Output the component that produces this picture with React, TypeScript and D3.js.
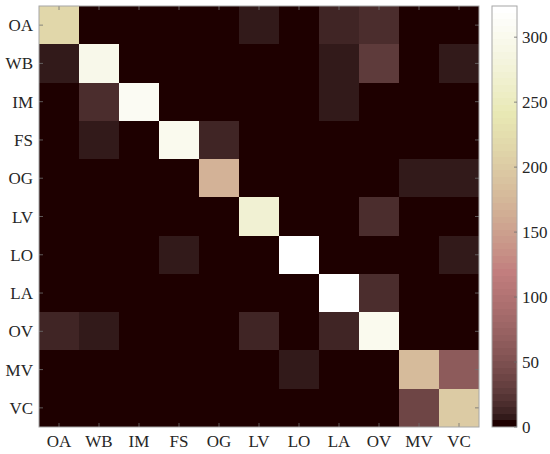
import React from 'react';
import * as d3 from 'd3';

const categories = ['OA', 'WB', 'IM', 'FS', 'OG', 'LV', 'LO', 'LA', 'OV', 'MV', 'VC'];

// confusion matrix rows (true class), columns in the same order as categories
const rowOA = [215, 0, 0, 0, 0, 8, 0, 12, 20, 0, 0];
const rowWB = [8, 296, 0, 0, 0, 0, 0, 8, 27, 0, 8];
const rowIM = [0, 18, 308, 0, 0, 0, 0, 8, 0, 0, 0];
const rowFS = [0, 8, 0, 300, 14, 0, 0, 0, 0, 0, 0];
const rowOG = [0, 0, 0, 0, 168, 0, 0, 0, 0, 8, 8];
const rowLV = [0, 0, 0, 0, 0, 272, 0, 0, 17, 0, 0];
const rowLO = [0, 0, 0, 8, 0, 0, 324, 0, 0, 0, 8];
const rowLA = [0, 0, 0, 0, 0, 0, 0, 322, 17, 0, 0];
const rowOV = [14, 8, 0, 0, 0, 14, 0, 13, 302, 0, 0];
const rowMV = [0, 0, 0, 0, 0, 0, 8, 0, 0, 178, 65];
const rowVC = [0, 0, 0, 0, 0, 0, 0, 0, 0, 37, 200];

const matrix = [rowOA, rowWB, rowIM, rowFS, rowOG, rowLV, rowLO, rowLA, rowOV, rowMV, rowVC];

const colorbarTicks = [0, 50, 100, 150, 200, 250, 300];
const maxValue = 324;

// MATLAB pink(64) colormap
function pinkColormap(m: number): string[] {
  const n = Math.floor((3 / 8) * m);
  const out: string[] = [];
  for (let i = 0; i < m; i++) {
    const gray = i / (m - 1);
    const rh = i < n ? (i + 1) / n : 1;
    const gh = i < n ? 0 : i < 2 * n ? (i - n + 1) / n : 1;
    const bh = i < 2 * n ? 0 : (i - 2 * n + 1) / (m - 2 * n);
    const r = Math.sqrt((2 * gray + rh) / 3);
    const g = Math.sqrt((2 * gray + gh) / 3);
    const b = Math.sqrt((2 * gray + bh) / 3);
    out.push(d3.rgb(r * 255, g * 255, b * 255).formatHex());
  }
  return out;
}

const colors = pinkColormap(64);

export default function App() {
  const width = 550;
  const height = 454;
  const plot = { left: 39, right: 479, top: 6, bottom: 427 };
  const bar = { left: 492, right: 517 };
  const font = "'Liberation Serif', 'Times New Roman', Times, serif";

  const x = d3.scaleBand().domain(categories).range([plot.left, plot.right]);
  const y = d3.scaleBand().domain(categories).range([plot.top, plot.bottom]);
  const color = d3.scaleQuantize<string>().domain([0, maxValue]).range(colors);
  const cy = d3.scaleLinear().domain([0, maxValue]).range([plot.bottom, plot.top]);

  const step = maxValue / colors.length;
  const tickLen = 4;
  const textStyle = { fontFamily: font, fontSize: 17 };

  // integer cell edges so neighbouring cells meet without seams
  const x0 = (j: number) => Math.round(x(categories[j]) as number);
  const x1 = (j: number) => Math.round((x(categories[j]) as number) + x.bandwidth());
  const y0 = (i: number) => Math.round(y(categories[i]) as number);
  const y1 = (i: number) => Math.round((y(categories[i]) as number) + y.bandwidth());

  return (
    <svg width={width} height={height} style={{ position: 'absolute', left: 0, top: 0 }}>
      <rect x={0} y={0} width={width} height={height} fill="#fff" />
      <g shapeRendering="crispEdges">
        {matrix.map((row, i) =>
          row.map((v, j) => (
            <rect
              key={`${i}-${j}`}
              x={x0(j)}
              y={y0(i)}
              width={x1(j) - x0(j)}
              height={y1(i) - y0(i)}
              fill={color(v)}
            />
          ))
        )}
      </g>
      {categories.map(c => {
        const cx = (x(c) as number) + x.bandwidth() / 2;
        const cyy = (y(c) as number) + y.bandwidth() / 2;
        return (
          <g key={c} stroke="#6e6e6e" strokeWidth={0.8}>
            <line x1={cx} x2={cx} y1={plot.bottom} y2={plot.bottom - tickLen} />
            <line x1={cx} x2={cx} y1={plot.top} y2={plot.top + tickLen} />
            <line x1={plot.left} x2={plot.left + tickLen} y1={cyy} y2={cyy} />
            <line x1={plot.right} x2={plot.right - tickLen} y1={cyy} y2={cyy} />
          </g>
        );
      })}
      <rect
        x={plot.left}
        y={plot.top}
        width={plot.right - plot.left}
        height={plot.bottom - plot.top}
        fill="none"
        stroke="#a6a6a6"
        strokeWidth={1}
      />
      {categories.map(c => (
        <text
          key={'x' + c}
          x={(x(c) as number) + x.bandwidth() / 2}
          y={447}
          textAnchor="middle"
          style={textStyle}
          fill="#262626"
        >
          {c}
        </text>
      ))}
      {categories.map(c => (
        <text
          key={'y' + c}
          x={33}
          y={(y(c) as number) + y.bandwidth() / 2 + 6}
          textAnchor="end"
          style={textStyle}
          fill="#262626"
        >
          {c}
        </text>
      ))}
      <g shapeRendering="crispEdges">
        {colors.map((col, k) => (
          <rect
            key={'cb' + k}
            x={bar.left}
            y={Math.round(cy((k + 1) * step))}
            width={bar.right - bar.left}
            height={Math.round(cy(k * step)) - Math.round(cy((k + 1) * step))}
            fill={col}
          />
        ))}
      </g>
      <rect
        x={bar.left}
        y={plot.top}
        width={bar.right - bar.left}
        height={plot.bottom - plot.top}
        fill="none"
        stroke="#a6a6a6"
        strokeWidth={1}
      />
      {colorbarTicks.map(t => (
        <g key={'ct' + t}>
          <line x1={bar.right} x2={bar.right - 3} y1={cy(t)} y2={cy(t)} stroke="#6e6e6e" strokeWidth={0.8} />
          <text x={522} y={cy(t) + 6} style={textStyle} fill="#262626">
            {t}
          </text>
        </g>
      ))}
    </svg>
  );
}
